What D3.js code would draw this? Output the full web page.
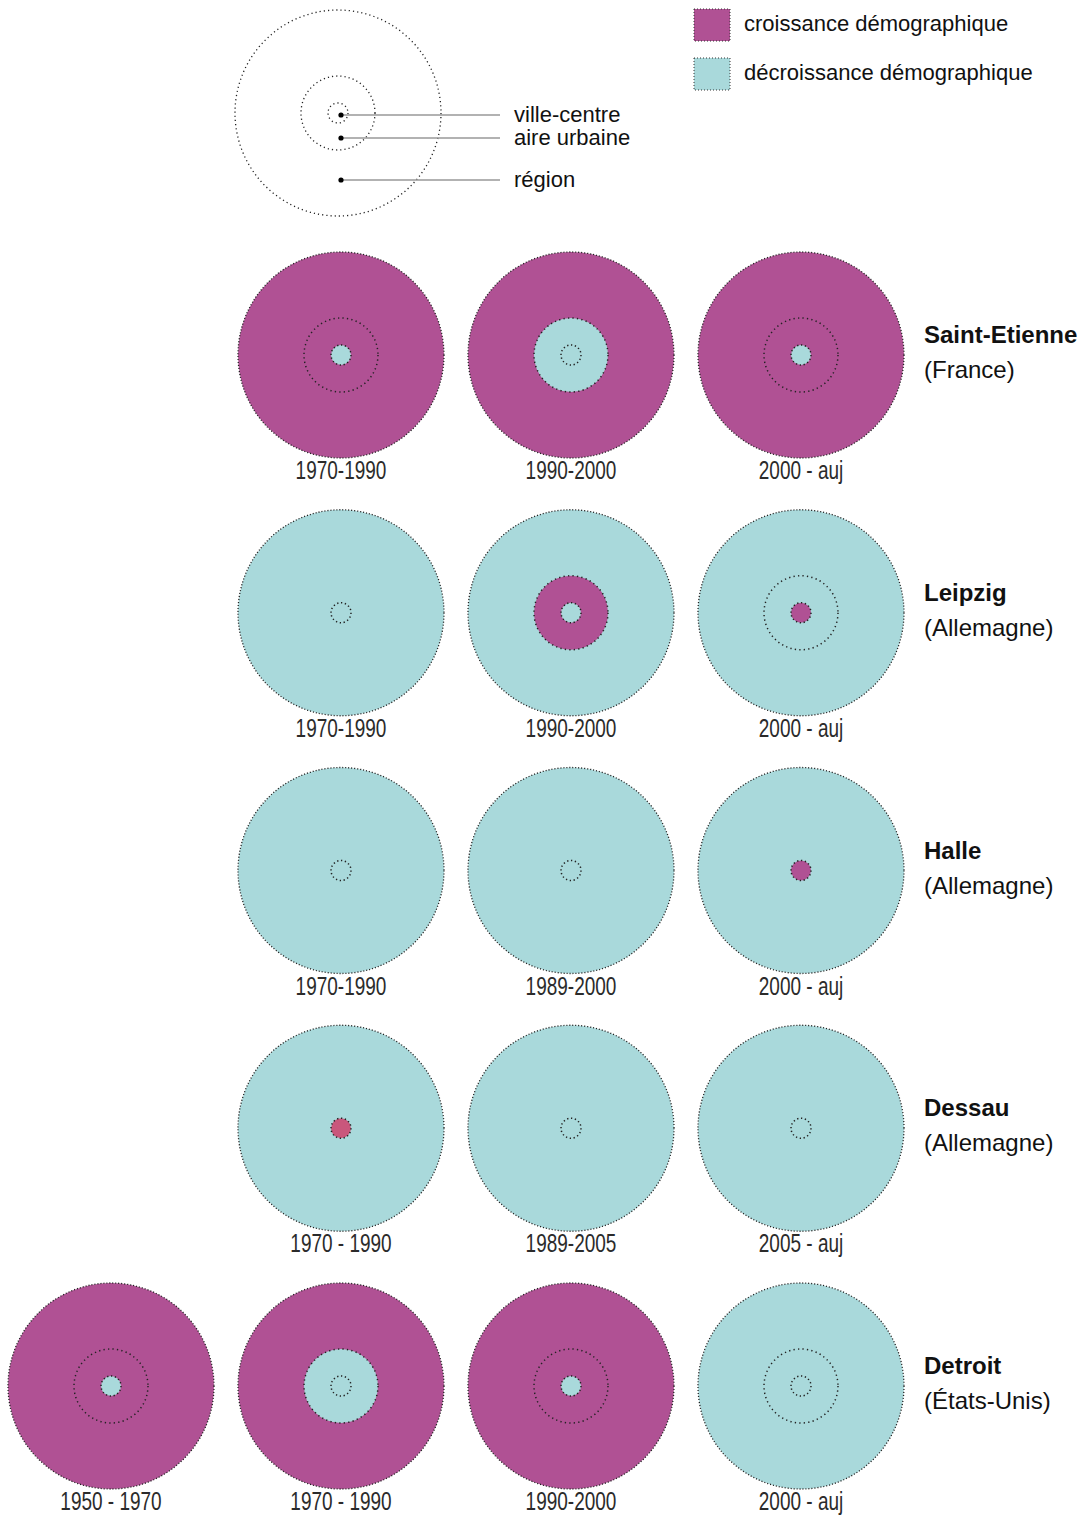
<!DOCTYPE html>
<html>
<head>
<meta charset="utf-8">
<script src="https://cdn.jsdelivr.net/npm/d3@7"></script>
<style>
  body { margin: 0; background: #fff; }
  svg { display: block; }
  .period { font-family: "Liberation Sans Narrow", "Liberation Sans", Arial, sans-serif; font-size: 25px; fill: #2b2b2b; }
  .city { font-family: "Liberation Sans", Arial, sans-serif; font-size: 24px; fill: #111; }
  .lgd { font-family: "Liberation Sans", Arial, sans-serif; font-size: 22px; fill: #111; }
</style>
</head>
<body>
<div id="chart"></div>
<script>
let width = 1082;
let height = 1519;

// cities (rows) and their country
let cities = ["Saint-Etienne", "Leipzig", "Halle", "Dessau", "Detroit"];
let countries = ["(France)", "(Allemagne)", "(Allemagne)", "(Allemagne)", "(États-Unis)"];

// periods per city; Detroit has an extra first column
let periods = [
    ["1970-1990", "1990-2000", "2000 - auj"],
    ["1970-1990", "1990-2000", "2000 - auj"],
    ["1970-1990", "1989-2000", "2000 - auj"],
    ["1970 - 1990", "1989-2005", "2005 - auj"],
    ["1950 - 1970", "1970 - 1990", "1990-2000", "2000 - auj"]
];

// status per level: "g" = croissance, "d" = décroissance, "g2" = croissance (autre teinte), null = non représenté
let regionStatus = [
    ["g", "g", "g"],
    ["d", "d", "d"],
    ["d", "d", "d"],
    ["d", "d", "d"],
    ["g", "g", "g", "d"]
];
let urbanStatus = [
    ["g", "d", "g"],
    [null, "g", "d"],
    [null, null, null],
    [null, null, null],
    ["g", "d", "g", "d"]
];
let centreStatus = [
    ["d", "d", "d"],
    ["d", "d", "g"],
    ["d", "d", "g"],
    ["g2", "d", "d"],
    ["d", "d", "d", "d"]
];

let legendItems = ["croissance démographique", "décroissance démographique"];
let legendLevels = ["ville-centre", "aire urbaine", "région"];

let color = d3.scaleOrdinal()
    .domain(["g", "d", "g2"])
    .range(["#b05194", "#a9d9db", "#c9577c"]);

let radius = d3.scaleOrdinal()
    .domain(["région", "aire urbaine", "ville-centre"])
    .range([103, 37, 10]);

// 4 column slots, the 3-period rows are right aligned
let xScale = d3.scaleLinear().domain([0, 3]).range([111, 801]);
let yScale = d3.scaleLinear().domain([0, cities.length - 1]).range([355, 1386]);

let svg = d3.select("#chart").append("svg")
    .attr("width", width)
    .attr("height", height);

// ---- schematic legend (top left)
let sch = svg.append("g").attr("transform", "translate(338,113)");
legendLevels.slice().reverse().forEach(function(lv) {
    sch.append("circle")
        .attr("r", radius(lv))
        .attr("fill", "none")
        .attr("stroke", "#222")
        .attr("stroke-width", 1.3)
        .attr("stroke-dasharray", "1.2,3");
});
let pointerY = d3.scaleOrdinal().domain(legendLevels).range([2, 25, 67]);
legendLevels.forEach(function(lv) {
    let y = pointerY(lv);
    sch.append("line")
        .attr("x1", 3).attr("x2", 162)
        .attr("y1", y).attr("y2", y)
        .attr("stroke", "#999").attr("stroke-width", 1.6);
    sch.append("circle")
        .attr("cx", 3).attr("cy", y).attr("r", 2.6)
        .attr("fill", "#000");
    sch.append("text")
        .attr("class", "lgd")
        .attr("x", 176).attr("y", y + 7)
        .text(lv);
});

// ---- colour legend (top right)
let lg = svg.append("g").attr("transform", "translate(694,9)");
legendItems.forEach(function(t, i) {
    let g = lg.append("g").attr("transform", "translate(0," + (i * 49) + ")");
    g.append("rect")
        .attr("width", 36).attr("height", 32)
        .attr("fill", color(i === 0 ? "g" : "d"))
        .attr("stroke", "#333")
        .attr("stroke-width", 1)
        .attr("stroke-dasharray", "1,2");
    g.append("text")
        .attr("class", "lgd")
        .attr("x", 50).attr("y", 22)
        .text(t);
});

// ---- grid of circles
cities.forEach(function(city, r) {
    let n = periods[r].length;
    let cy = yScale(r);
    periods[r].forEach(function(p, k) {
        let cx = xScale(4 - n + k);
        let g = svg.append("g").attr("transform", "translate(" + cx + "," + cy + ")");

        g.append("circle")
            .attr("r", radius("région"))
            .attr("fill", color(regionStatus[r][k]))
            .attr("stroke", "#222")
            .attr("stroke-width", 1.3)
            .attr("stroke-dasharray", "1.1,1.9");

        let u = urbanStatus[r][k];
        if (u !== null) {
            g.append("circle")
                .attr("r", radius("aire urbaine"))
                .attr("fill", color(u))
                .attr("stroke", "#222")
                .attr("stroke-width", 1.5)
                .attr("stroke-dasharray", "1.3,3.2");
        }

        g.append("circle")
            .attr("r", radius("ville-centre"))
            .attr("fill", color(centreStatus[r][k]))
            .attr("stroke", "#222")
            .attr("stroke-width", 1.5)
            .attr("stroke-dasharray", "1.3,2.6");

        // condensed period label
        g.append("text")
            .attr("class", "period")
            .attr("text-anchor", "middle")
            .attr("transform", "translate(0,124) scale(0.76,1)")
            .text(p);
    });

    svg.append("text")
        .attr("class", "city")
        .attr("x", 924).attr("y", cy - 12)
        .attr("font-weight", "bold")
        .text(city);
    svg.append("text")
        .attr("class", "city")
        .attr("x", 924).attr("y", cy + 23)
        .text(countries[r]);
});
</script>
</body>
</html>
